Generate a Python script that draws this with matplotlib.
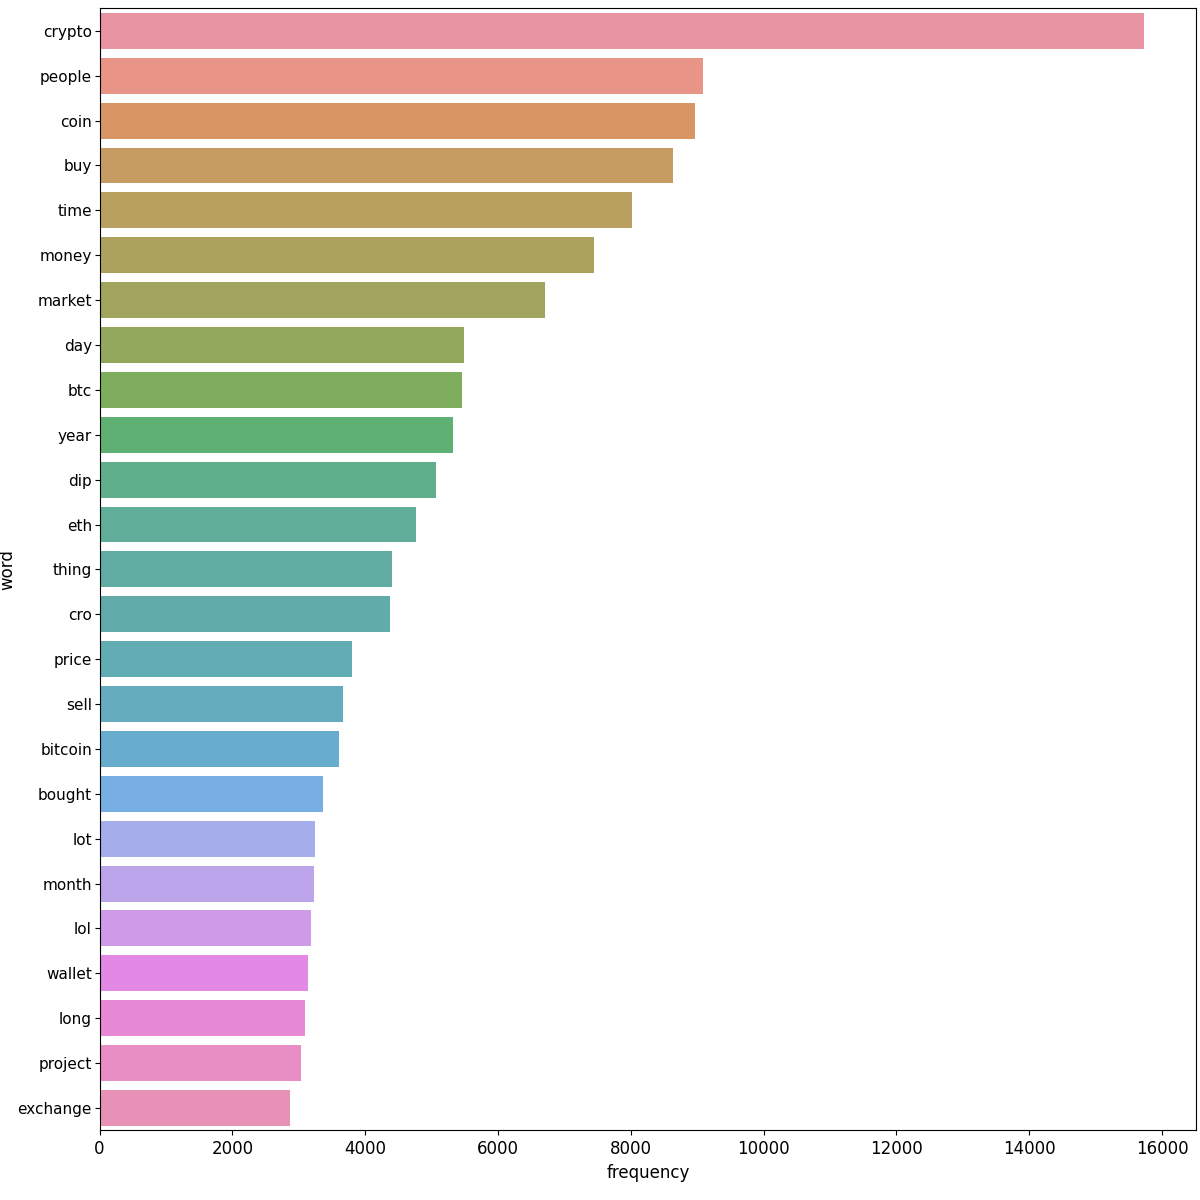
import matplotlib
matplotlib.use("Agg")
import matplotlib.pyplot as plt
import seaborn as sns
import pandas as pd

words = ["crypto", "people", "coin", "buy", "time", "money", "market", "day", "btc",
         "year", "dip", "eth", "thing", "cro", "price", "sell", "bitcoin", "bought",
         "lot", "month", "lol", "wallet", "long", "project", "exchange"]
freqs = [15730, 9080, 8960, 8630, 8010, 7450, 6700, 5490, 5460, 5320, 5070, 4770,
         4400, 4370, 3800, 3660, 3600, 3360, 3240, 3230, 3180, 3140, 3090, 3030, 2870]

df = pd.DataFrame({"word": words, "frequency": freqs})

fig, ax = plt.subplots(figsize=(12, 12), dpi=100)
sns.barplot(data=df, x="frequency", y="word", hue="word", palette="husl",
            saturation=0.75, alpha=0.85, legend=False, ax=ax)
ax.tick_params(axis="y", labelsize=11, pad=2)
ax.tick_params(axis="x", labelsize=12)
ax.set_xlabel("frequency", fontsize=12)
ax.set_ylabel("word", fontsize=12, labelpad=1)
plt.subplots_adjust(left=0.083, right=0.997, top=0.993, bottom=0.058)
fig.savefig("out.png")
